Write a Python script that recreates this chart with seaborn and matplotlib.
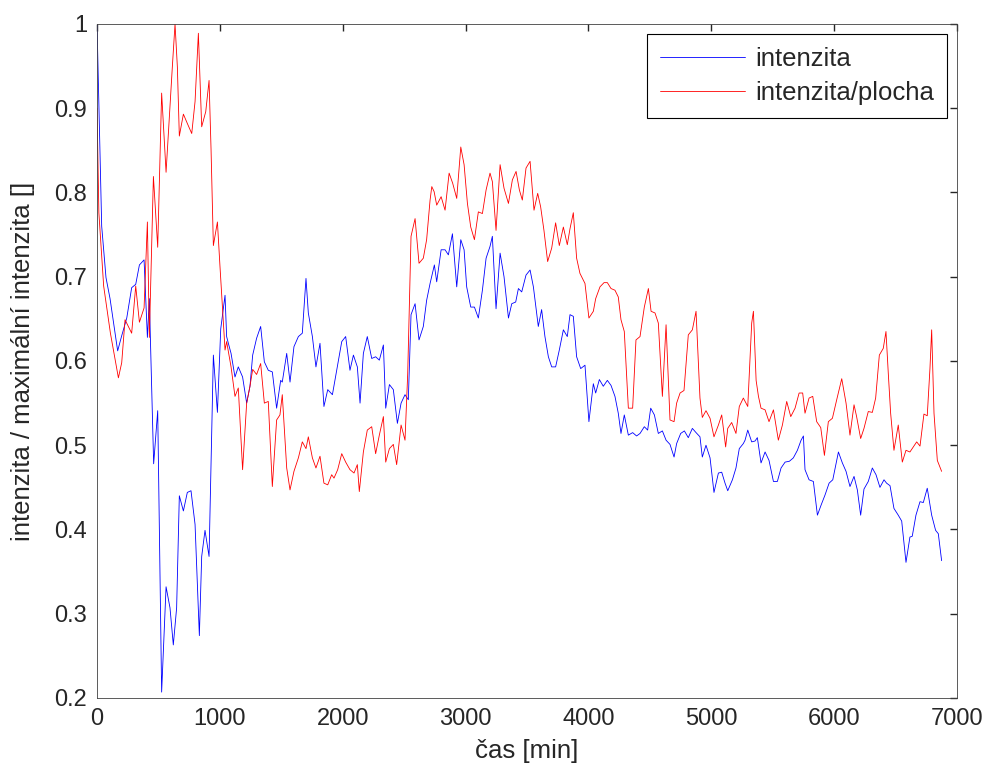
import pandas as pd
import matplotlib
matplotlib.use("Agg")
import matplotlib.pyplot as plt
from matplotlib.ticker import FormatStrFormatter
import seaborn as sns

sns.set_style("white")
plt.rcParams['font.family'] = ['Liberation Sans', 'DejaVu Sans']

# values (time in minutes)
t_int = [0, 38, 73, 106, 168, 201, 242, 282, 315, 345, 383, 410, 426, 461, 494, 526, 562, 594, 621, 648,
         670, 703, 735, 765, 798, 833, 852, 879, 912, 947, 980, 1007, 1042, 1055, 1069, 1091, 1123, 1150, 1185, 1218,
         1245, 1267, 1299, 1332, 1362, 1394, 1427, 1462, 1495, 1508, 1544, 1571, 1603, 1639, 1671, 1701, 1720, 1753, 1782, 1815,
         1847, 1878, 1916, 1951, 1992, 2024, 2059, 2087, 2119, 2141, 2168, 2200, 2236, 2268, 2298, 2331, 2350, 2380, 2412, 2445,
         2475, 2507, 2534, 2556, 2589, 2621, 2656, 2683, 2711, 2746, 2765, 2801, 2833, 2860, 2893, 2928, 2961, 2988, 3009, 3042,
         3072, 3104, 3137, 3167, 3199, 3218, 3248, 3281, 3313, 3349, 3376, 3408, 3430, 3457, 3492, 3525, 3552, 3592, 3619, 3646,
         3674, 3701, 3733, 3763, 3796, 3828, 3850, 3877, 3904, 3937, 3972, 4004, 4040, 4059, 4089, 4121, 4154, 4184, 4216, 4243,
         4265, 4292, 4325, 4360, 4392, 4420, 4455, 4482, 4507, 4537, 4569, 4602, 4632, 4664, 4697, 4718, 4751, 4781, 4813, 4846,
         4876, 4908, 4927, 4957, 4990, 5022, 5058, 5085, 5112, 5134, 5172, 5201, 5228, 5261, 5275, 5297, 5329, 5356, 5375, 5405,
         5438, 5470, 5506, 5538, 5568, 5601, 5636, 5668, 5701, 5731, 5750, 5763, 5796, 5831, 5864, 5894, 5926, 5959, 5989, 6035,
         6067, 6097, 6129, 6162, 6189, 6216, 6243, 6278, 6311, 6341, 6373, 6406, 6427, 6455, 6487, 6522, 6550, 6585, 6617, 6636,
         6666, 6699, 6726, 6758, 6794, 6826, 6848, 6875]
intenzita = [1.0, 0.76, 0.699, 0.674, 0.612, 0.630, 0.651, 0.687, 0.691, 0.714, 0.720, 0.628, 0.674, 0.478, 0.541, 0.207, 0.332, 0.307, 0.263, 0.307,
             0.44, 0.422, 0.444, 0.446, 0.406, 0.274, 0.368, 0.399, 0.368, 0.607, 0.539, 0.638, 0.678, 0.629, 0.621, 0.609, 0.581, 0.593, 0.581, 0.550,
             0.570, 0.607, 0.627, 0.641, 0.599, 0.589, 0.587, 0.544, 0.577, 0.575, 0.609, 0.575, 0.617, 0.629, 0.633, 0.698, 0.657, 0.629, 0.593, 0.621,
             0.546, 0.566, 0.560, 0.589, 0.623, 0.629, 0.589, 0.607, 0.593, 0.550, 0.609, 0.629, 0.603, 0.605, 0.601, 0.619, 0.544, 0.572, 0.566, 0.526,
             0.550, 0.560, 0.554, 0.655, 0.668, 0.625, 0.641, 0.672, 0.692, 0.714, 0.694, 0.732, 0.732, 0.726, 0.751, 0.688, 0.744, 0.732, 0.688, 0.664,
             0.664, 0.651, 0.684, 0.722, 0.736, 0.748, 0.662, 0.728, 0.700, 0.651, 0.668, 0.670, 0.686, 0.682, 0.702, 0.708, 0.688, 0.641, 0.661, 0.629,
             0.605, 0.593, 0.593, 0.613, 0.637, 0.629, 0.655, 0.653, 0.605, 0.591, 0.595, 0.528, 0.573, 0.562, 0.578, 0.570, 0.577, 0.571, 0.558, 0.538,
             0.514, 0.536, 0.512, 0.515, 0.511, 0.514, 0.522, 0.518, 0.544, 0.536, 0.514, 0.517, 0.506, 0.501, 0.486, 0.502, 0.514, 0.517, 0.509, 0.520,
             0.515, 0.510, 0.486, 0.500, 0.485, 0.444, 0.467, 0.468, 0.455, 0.446, 0.459, 0.473, 0.496, 0.502, 0.506, 0.518, 0.504, 0.505, 0.509, 0.479,
             0.492, 0.482, 0.457, 0.457, 0.473, 0.480, 0.481, 0.485, 0.494, 0.506, 0.511, 0.471, 0.459, 0.457, 0.417, 0.429, 0.441, 0.455, 0.459, 0.492,
             0.479, 0.469, 0.451, 0.463, 0.447, 0.417, 0.448, 0.457, 0.473, 0.465, 0.450, 0.459, 0.455, 0.452, 0.425, 0.417, 0.410, 0.361, 0.391, 0.392,
             0.417, 0.433, 0.432, 0.449, 0.417, 0.399, 0.395, 0.363]

t_plocha = [0, 15, 54, 109, 174, 201, 228, 282, 315, 345, 383, 410, 426, 459, 494, 526, 562, 594, 613, 635,
            654, 670, 703, 735, 771, 798, 825, 852, 885, 912, 928, 947, 980, 1001, 1042, 1055, 1091, 1123, 1150, 1185,
            1218, 1245, 1267, 1299, 1332, 1362, 1394, 1427, 1462, 1489, 1508, 1544, 1571, 1603, 1639, 1671, 1701, 1720, 1753, 1782,
            1815, 1847, 1878, 1910, 1929, 1959, 1992, 2024, 2059, 2092, 2119, 2135, 2168, 2200, 2236, 2268, 2298, 2331, 2350, 2380,
            2412, 2439, 2475, 2507, 2529, 2556, 2589, 2621, 2656, 2683, 2711, 2725, 2744, 2765, 2801, 2833, 2866, 2895, 2928, 2961,
            2988, 3015, 3042, 3072, 3104, 3137, 3167, 3199, 3218, 3248, 3281, 3313, 3349, 3381, 3411, 3438, 3462, 3492, 3525, 3557,
            3587, 3611, 3638, 3668, 3701, 3733, 3763, 3796, 3828, 3850, 3877, 3904, 3931, 3972, 4004, 4040, 4059, 4094, 4127, 4154,
            4184, 4216, 4243, 4265, 4292, 4325, 4360, 4387, 4420, 4455, 4488, 4510, 4542, 4569, 4602, 4632, 4664, 4697, 4718, 4746,
            4778, 4813, 4846, 4876, 4908, 4927, 4957, 4990, 5022, 5058, 5085, 5117, 5134, 5166, 5201, 5228, 5261, 5297, 5316, 5329,
            5343, 5365, 5384, 5405, 5438, 5470, 5506, 5546, 5579, 5614, 5647, 5682, 5715, 5744, 5763, 5796, 5826, 5858, 5891, 5921,
            5953, 5986, 6021, 6062, 6097, 6129, 6162, 6183, 6216, 6243, 6278, 6311, 6338, 6368, 6400, 6422, 6441, 6460, 6487, 6522,
            6555, 6585, 6617, 6644, 6672, 6699, 6731, 6758, 6780, 6794, 6813, 6840, 6875]
intenzita_plocha = [0.90, 0.776, 0.689, 0.633, 0.580, 0.598, 0.649, 0.633, 0.689, 0.646, 0.663, 0.765, 0.628, 0.819, 0.735, 0.918, 0.824, 0.903, 0.949, 1.0,
                    0.949, 0.867, 0.893, 0.882, 0.870, 0.908, 0.989, 0.878, 0.896, 0.933, 0.852, 0.737, 0.765, 0.712, 0.613, 0.623, 0.593, 0.558, 0.568, 0.471,
                    0.550, 0.570, 0.590, 0.584, 0.597, 0.550, 0.552, 0.451, 0.530, 0.536, 0.560, 0.473, 0.447, 0.469, 0.485, 0.504, 0.496, 0.510, 0.485, 0.473,
                    0.487, 0.455, 0.453, 0.465, 0.461, 0.471, 0.490, 0.480, 0.471, 0.467, 0.477, 0.445, 0.492, 0.518, 0.522, 0.490, 0.512, 0.534, 0.480, 0.496,
                    0.501, 0.477, 0.524, 0.506, 0.585, 0.748, 0.769, 0.716, 0.722, 0.744, 0.791, 0.807, 0.801, 0.785, 0.795, 0.779, 0.823, 0.811, 0.793, 0.854,
                    0.833, 0.787, 0.759, 0.744, 0.777, 0.775, 0.803, 0.823, 0.813, 0.755, 0.833, 0.805, 0.787, 0.815, 0.825, 0.803, 0.791, 0.829, 0.837, 0.779,
                    0.799, 0.783, 0.755, 0.718, 0.734, 0.764, 0.737, 0.759, 0.738, 0.757, 0.776, 0.722, 0.704, 0.692, 0.651, 0.659, 0.674, 0.688, 0.693, 0.693,
                    0.686, 0.684, 0.676, 0.649, 0.635, 0.544, 0.544, 0.625, 0.629, 0.664, 0.686, 0.659, 0.657, 0.645, 0.558, 0.643, 0.530, 0.528, 0.550, 0.562,
                    0.565, 0.631, 0.637, 0.659, 0.556, 0.533, 0.541, 0.532, 0.510, 0.524, 0.536, 0.498, 0.520, 0.527, 0.514, 0.546, 0.556, 0.546, 0.605, 0.645,
                    0.659, 0.577, 0.558, 0.544, 0.542, 0.528, 0.542, 0.506, 0.524, 0.552, 0.534, 0.544, 0.562, 0.562, 0.538, 0.556, 0.558, 0.528, 0.521, 0.488,
                    0.528, 0.532, 0.554, 0.579, 0.550, 0.512, 0.548, 0.534, 0.508, 0.520, 0.540, 0.539, 0.556, 0.607, 0.615, 0.635, 0.585, 0.538, 0.494, 0.524,
                    0.480, 0.494, 0.492, 0.498, 0.504, 0.499, 0.537, 0.535, 0.591, 0.637, 0.538, 0.482, 0.469]

x_ticks = [0, 1000, 2000, 3000, 4000, 5000, 6000, 7000]
y_ticks = [0.2, 0.3, 0.4, 0.5, 0.6, 0.7, 0.8, 0.9, 1.0]

df1 = pd.DataFrame({'t': t_int, 'v': intenzita})
df2 = pd.DataFrame({'t': t_plocha, 'v': intenzita_plocha})

fig = plt.figure(figsize=(9.88, 7.74), dpi=100)
ax = fig.add_axes([0.0982, 0.0982, 0.8704, 0.8708])

sns.lineplot(data=df1, x='t', y='v', color='#0000ff', linewidth=0.6, ax=ax)
sns.lineplot(data=df2, x='t', y='v', color='#ff0000', linewidth=0.6, ax=ax)
lines = ax.get_lines()

ax.set_xlim(0, 7000)
ax.set_ylim(0.2, 1.0)
ax.set_xticks(x_ticks)
ax.set_yticks(y_ticks)
ax.yaxis.set_major_formatter(FormatStrFormatter('%g'))
ax.tick_params(direction='in', top=True, right=True, length=5, width=1.0, pad=7)
# MATLAB-like condensed tick labels
for lbl in ax.get_xticklabels() + ax.get_yticklabels():
    lbl.set_family(['Liberation Sans Narrow', 'Liberation Sans'])
    lbl.set_fontsize(17)
for s in ax.spines.values():
    s.set_linewidth(0.6)
    s.set_color('#404040')

ax.set_xlabel('čas [min]', fontsize=18.5, labelpad=7)
ax.set_ylabel('intenzita / maximální intenzita []', fontsize=18.5, labelpad=14)

leg = ax.legend(handles=[lines[0], lines[1]], labels=['intenzita', 'intenzita/plocha'],
                loc='upper right', fontsize=18.5, fancybox=False, framealpha=1,
                edgecolor='black', borderaxespad=0.4, handlelength=3.3, handletextpad=0.4,
                borderpad=0.5, labelspacing=0.4)
leg.get_frame().set_linewidth(0.8)

fig.savefig('out.png', dpi=100)
